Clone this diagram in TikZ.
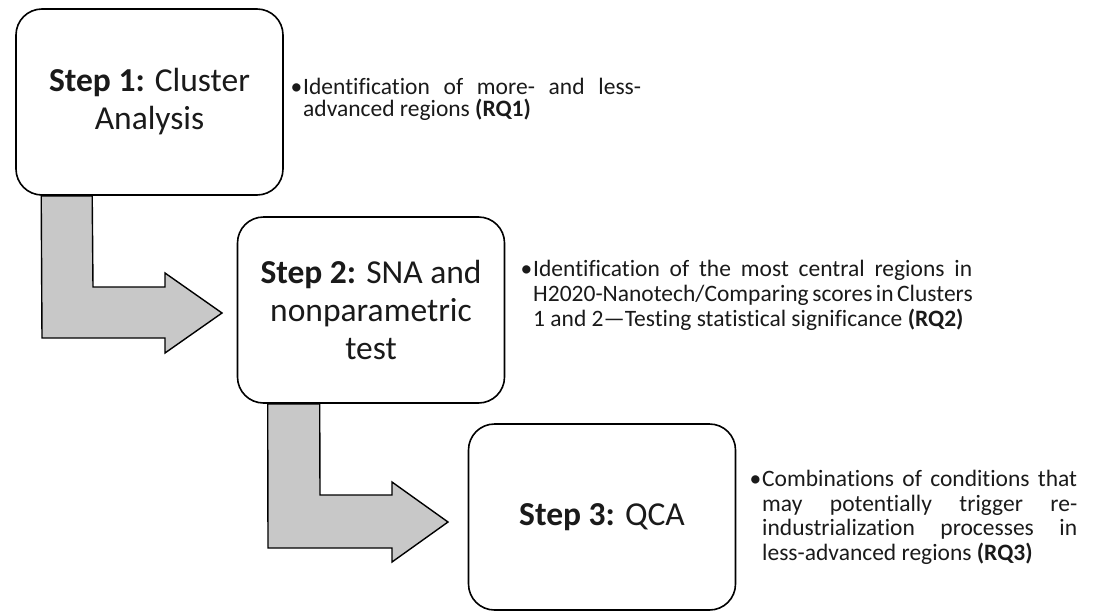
\documentclass[tikz,border=0pt]{standalone}
\usepackage{fontspec}
\setmainfont{Carlito}[Ligatures=NoCommon]
\definecolor{arrowgray}{HTML}{C8C8C8}
\definecolor{ink}{HTML}{1A1A1A}
\begin{document}
\begin{tikzpicture}[x=1pt,y=-1pt]
\useasboundingbox (0,0) rectangle (1094,613);
\tikzset{
  stepbox/.style={draw=black, line width=1.6pt, fill=white, rounded corners=26pt,
    inner sep=0pt, minimum width=267pt, minimum height=186pt, align=center,
    text=ink, font=\fontsize{33.5}{38}\selectfont},
  blockarrow/.style={draw=black, line width=1.4pt, fill=arrowgray, line join=miter},
  note/.style={anchor=base west, inner sep=0pt, text=ink}
}
% step boxes
\node[stepbox] (b1) at (149.5,102) {\textbf{Step 1:} Cluster\\Analysis};
\node[stepbox] (b2) at (371,310) {\textbf{Step 2:} SNA and\\nonparametric\\test};
\node[stepbox] (b3) at (602,517) {\textbf{Step 3:} QCA};

% block arrows
\draw[blockarrow] ([xshift=26pt]b1.south west) -- (42,338) -- (165,338) -- (165,353)
  -- (222,313) -- (165,273) -- (165,287) -- (93,287) -- ([xshift=77pt]b1.south west) -- cycle;
\draw[blockarrow] ([xshift=31pt]b2.south west) -- (268,548) -- (392,548) -- (392,562)
  -- (448,522) -- (392,482) -- (392,495) -- (320,495) -- ([xshift=83pt]b2.south west) -- cycle;

% notes
\node[note, font=\fontsize{23.5}{22.8}\selectfont] (n1) at (303,94)
  {\vtop{\hbox to 338pt{\llap{•\hspace{1pt}}Identification of more- and less-}
         \hbox{advanced regions \textbf{(RQ1)}}}};
\node[note, font=\fontsize{23.5}{25}\selectfont] (n2) at (533,276.7)
  {\vtop{\hbox to 439pt{\llap{•\hspace{1pt}}Identification of the most central regions in}
         \hbox to 439pt{H2020-Nanotech/Comparing scores in Clusters}
         \hbox{1 and 2—Testing statistical significance \textbf{(RQ2)}}}};
\node[note, font=\fontsize{23.5}{24.5}\selectfont] (n3) at (762,486.7)
  {\vtop{\hbox to 315pt{\llap{•\hspace{1pt}}Combinations of conditions that}
         \hbox to 315pt{may potentially trigger re-}
         \hbox to 315pt{industrialization processes in}
         \hbox{less-advanced regions \textbf{(RQ3)}}}};
\end{tikzpicture}
\end{document}
